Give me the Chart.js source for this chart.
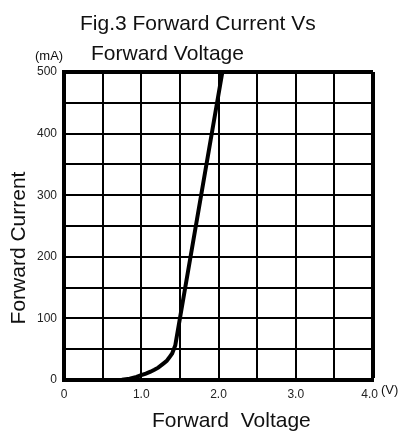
<!DOCTYPE html>
<html>
<head>
<meta charset="utf-8">
<script src="https://cdn.jsdelivr.net/npm/chart.js@4.4.0/dist/chart.umd.min.js"></script>
<style>
  html, body { margin: 0; padding: 0; background: #fff; }
  #wrap { width: 401px; height: 434px; position: relative; }
</style>
</head>
<body>
<div id="wrap"><canvas id="ivChart" width="401" height="434"></canvas></div>
<script>
// Forward voltage (V) vs forward current (mA)
const voltage = [0, 0.6, 0.75, 0.85, 0.94, 1.0, 1.06, 1.12, 1.17, 1.22, 1.29, 1.33, 1.36, 1.40, 1.44, 2.05];
const current = [0, 0, 0.4, 2, 5, 8, 10.5, 13.5, 16.5, 20, 27, 31, 36, 43, 56, 500];

const xTicks = [0, 1, 2, 3, 4];
const yTicks = [0, 100, 200, 300, 400, 500];

const points = voltage.map((v, i) => ({ x: v, y: current[i] }));

// Titles and unit labels
const textPlugin = {
  id: "figText",
  afterDraw(chart) {
    const c = chart.ctx;
    c.save();
    c.fillStyle = "#111";
    c.textBaseline = "alphabetic";
    c.textAlign = "left";
    c.font = "21px 'Liberation Sans', Arial, sans-serif";
    c.fillText("Fig.3 Forward Current Vs", 80, 30);
    c.fillText("Forward Voltage", 91, 60);
    c.fillText("Forward  Voltage", 152, 427);

    c.font = "13px 'Liberation Sans', Arial, sans-serif";
    c.fillText("(mA)", 35, 60);
    c.fillText("(V)", 381, 394);

    c.font = "21px 'Liberation Sans', Arial, sans-serif";
    c.translate(25, 248);
    c.rotate(-Math.PI / 2);
    c.textAlign = "center";
    c.fillText("Forward Current", 0, 0);
    c.restore();
  },
};

const ctx = document.getElementById("ivChart").getContext("2d");
const ivChart = new Chart(ctx, {
  type: "scatter",
  data: {
    datasets: [
      {
        data: points,
        showLine: true,
        borderColor: "#000",
        borderWidth: 4,
        pointRadius: 0,
        tension: 0,
        clip: false,
      },
    ],
  },
  options: {
    responsive: false,
    animation: false,
    layout: { padding: { top: 72, right: 28, bottom: 0, left: 0 } },
    plugins: { legend: { display: false }, tooltip: { enabled: false } },
    scales: {
      x: {
        type: "linear",
        min: 0,
        max: 4,
        afterFit: (scale) => { scale.height = 54; },
        ticks: {
          stepSize: 0.5,
          padding: 7,
          color: "#222",
          font: { family: "'Liberation Sans', Arial, sans-serif", size: 12 },
          callback: (v) => {
            if (!xTicks.includes(v)) return "";
            if (v === 0) return "0";
            // last label sits a little left of the corner in the original
            return v === 4 ? "4.0  " : v.toFixed(1);
          },
        },
        grid: {
          color: "#000",
          lineWidth: (c) => (c.index === 8 ? 4 : 2),
          drawTicks: false,
        },
        border: { color: "#000", width: 4 },
      },
      y: {
        min: 0,
        max: 500,
        afterFit: (scale) => { scale.width = 64; },
        ticks: {
          stepSize: 50,
          padding: 7,
          color: "#222",
          font: { family: "'Liberation Sans', Arial, sans-serif", size: 12 },
          callback: (v) => (yTicks.includes(v) ? String(v) : ""),
        },
        grid: {
          color: "#000",
          lineWidth: (c) => (c.index === 10 ? 4 : 2),
          drawTicks: false,
        },
        border: { color: "#000", width: 4 },
      },
    },
  },
  plugins: [textPlugin],
});
</script>
</body>
</html>
